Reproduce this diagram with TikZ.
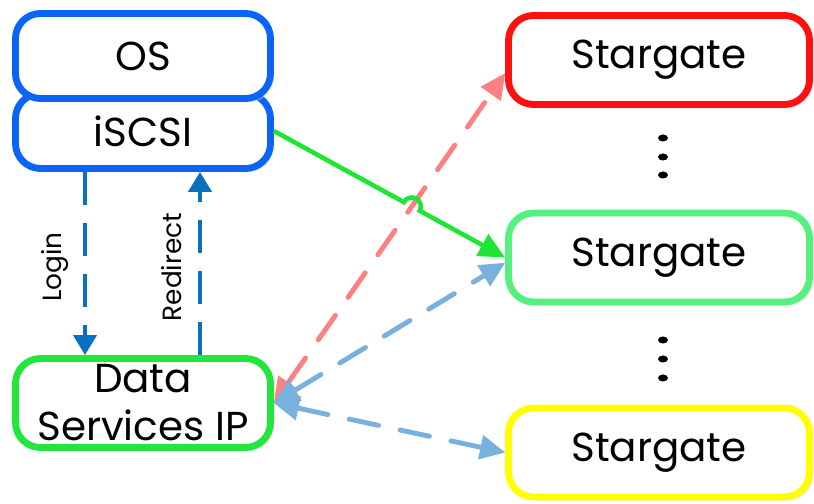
\documentclass[tikz,border=0pt]{standalone}
\usepackage{fontspec}
\setmainfont{Poppins}
\usepackage{tikz}
\usetikzlibrary{arrows.meta,positioning,calc,intersections,shadows}
\definecolor{osblue}{HTML}{0A64F5}
\definecolor{dsgreen}{HTML}{22E63C}
\definecolor{sgred}{HTML}{FF1010}
\definecolor{sggreen}{HTML}{55F07D}
\definecolor{sgyellow}{HTML}{FFFF00}
\definecolor{linkblue}{HTML}{0A70C0}
\definecolor{paleblue}{HTML}{78B0DE}
\definecolor{palered}{HTML}{FF8080}
\definecolor{hopgreen}{HTML}{1EE632}

\begin{document}
\begin{tikzpicture}[
  every node/.style={align=center},
  box/.style={rounded corners=0.5cm,line width=3.9pt,fill=white,minimum width=5.1cm,
    font=\fontsize{23}{27.3}\selectfont,
    drop shadow={shadow xshift=2pt,shadow yshift=-2pt,fill=black!18}},
  gate/.style={box,minimum width=6.02cm,minimum height=1.78cm},
  tag/.style={rotate=90,font=\fontsize{15}{18}\selectfont},
  login/.style={-{Triangle[length=0.4cm,width=0.46cm]},draw=linkblue,line width=2.4pt,
    dash pattern=on 0.66cm off 0.36cm},
  route/.style={{Triangle[length=0.5cm,width=0.5cm,line width=0pt]}-{Triangle[length=0.5cm,width=0.5cm,line width=0pt]},
    line width=2.8pt,line cap=round,dash pattern=on 0.6cm off 0.44cm},
  link/.style={-{Triangle[length=0.52cm,width=0.48cm]},draw=hopgreen,line width=2.6pt}
]
\useasboundingbox (0,0) rectangle (16.28,10.08);

\node[box,draw=osblue,minimum height=1.5cm] (iscsi) at (2.86,7.46) {iSCSI};
\node[box,draw=osblue,minimum height=1.7cm] (os) at (2.86,8.96) {OS};
\node[box,draw=dsgreen,minimum height=1.78cm] (dsip) at (2.86,2.02) {Data\\Services IP};

\node[gate,draw=sgred] (sg1) at (13.18,8.88) {Stargate};
\node[gate,draw=sggreen] (sg2) at (13.18,4.93) {Stargate};
\node[gate,draw=sgyellow] (sg3) at (13.18,1.03) {Stargate};

\foreach \y in {7.32,6.94,6.58,3.28,2.90,2.52}
  \fill (13.26,\y) ellipse[x radius=0.1cm,y radius=0.07cm];

\node[tag] (logintag) at (1.10,4.74) {Login};
\node[tag] (redirtag) at (3.44,4.74) {Redirect};
\draw[login] ([xshift=-1.16cm]iscsi.south) -- ([xshift=-1.16cm]dsip.north);
\draw[login] ([xshift=1.14cm]dsip.north) -- ([xshift=1.14cm]iscsi.south);

\draw[route,draw=palered] (dsip.east) -- (sg1.185);
\foreach \g in {sg2.182,sg3.west}
  \draw[route,draw=paleblue] (dsip.east) -- (\g);

% green link hops over the red one
\path[name path=redpath] (dsip.east) -- (sg1.185);
\path[name path=greenpath] (iscsi.east) -- (sg2.west);
\path[name intersections={of=redpath and greenpath,by=cross}];
\draw[link] let \p1=($(sg2.west)-(iscsi.east)$), \n1={atan2(\y1,\x1)}, \n2={\n1+180} in
  (iscsi.east) -- ($(cross)!0.18cm!(iscsi.east)$)
  arc[start angle=\n2,end angle=\n1,radius=0.18cm] -- (sg2.west);
\end{tikzpicture}
\end{document}
